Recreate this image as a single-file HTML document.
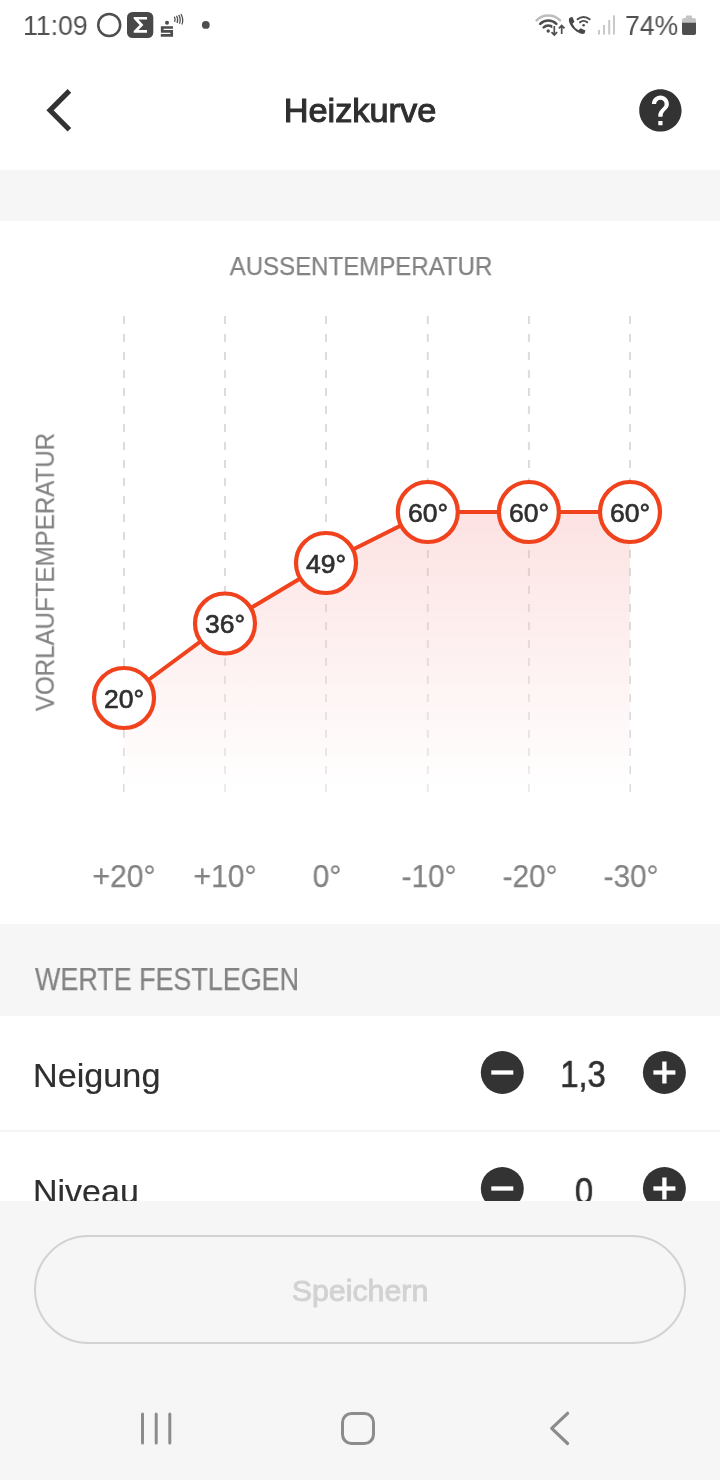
<!DOCTYPE html>
<html><head><meta charset="utf-8">
<style>
*{margin:0;padding:0;box-sizing:border-box}
html,body{width:720px;height:1480px;overflow:hidden;background:#fff;font-family:"Liberation Sans",sans-serif;}
body{position:relative}
.abs{position:absolute}
.t{position:absolute;white-space:nowrap;line-height:1;will-change:transform}
</style></head><body>
<!-- status bar -->
<div class="t" id="time" style="left:23.28px;top:13.3px;font-size:27px;color:#505050;transform: scaleX(0.9872);transform-origin:left top;">11:09</div>
<div class="t" id="batt" style="left:625.21px;top:12.95px;font-size:27px;color:#505050;transform: scaleX(0.9842);transform-origin:left top;">74%</div>
<svg class="abs" style="left:0;top:0" width="720" height="50" viewBox="0 0 720 50">
  <!-- circle icon -->
  <circle cx="109.200" cy="25" r="11" fill="none" stroke="#4e4e4e" stroke-width="2.500"/>
  <!-- sigma icon -->
  <rect x="127" y="12" width="26.300" height="26" rx="5.500" fill="#484848"/>
  <path d="M133.700 16.900 H147 V19.600 H138.400 L143.400 24.900 L138.400 30.100 H147 V32.800 H133.700 V31 L139.600 24.900 L133.700 18.700 Z" fill="#fff"/>
  <!-- sparkasse-like icon -->
  <circle cx="167" cy="22.800" r="2" fill="#4e4e4e"/>
  <path d="M173 27.500 H162.200 V31.400 H171.700 V35.400 H160.800" fill="none" stroke="#4e4e4e" stroke-width="2.700"/>
  <path d="M174.300 16.700 q1.600 2.600 0.400 5.400 M176.500 15.700 q2.100 3.500 0.600 7.200 M178.700 14.900 q2.600 4.300 0.800 8.800 M180.900 14.200 q3.100 5 1 10.200" stroke="#505050" stroke-width="1.250" fill="none"/>
  <!-- dot -->
  <circle cx="205.800" cy="24.900" r="3.900" fill="#4e4e4e"/>
  <!-- wifi -->
  <path d="M536.600 20.300 A16.500 16.500 0 0 1 560 20.300" stroke="#bdbdbd" stroke-width="2.600" fill="none" stroke-linecap="round"/>
  <path d="M540.200 23.900 A11.500 11.500 0 0 1 556.400 23.900" stroke="#4e4e4e" stroke-width="2.600" fill="none" stroke-linecap="round"/>
  <path d="M543.700 27.400 A6.500 6.500 0 0 1 552.900 27.400" stroke="#4e4e4e" stroke-width="2.600" fill="none" stroke-linecap="round"/>
  <circle cx="548.200" cy="31" r="1.700" fill="#4e4e4e"/>
  <path d="M554.300 26 v9 m-2.800 -2.800 l2.800 2.800 l2.800 -2.800 M561.700 34 v-8.500 m-2.800 2.800 l2.800 -2.800 l2.800 2.800" stroke="#fff" stroke-width="4" fill="none"/>
  <path d="M554.300 26 v9 m-2.800 -2.800 l2.800 2.800 l2.800 -2.800 M561.700 34 v-8.500 m-2.800 2.800 l2.800 -2.800 l2.800 2.800" stroke="#4e4e4e" stroke-width="1.700" fill="none"/>
  <!-- phone wifi -->
  <path d="M569.300 18 l3 -1.200 l2.200 5 l-2 2 q2 4.500 6 6.500 l2 -2 l5 2.200 l-1 3 q-3 1.500 -8 -2 q-6 -4.500 -7.500 -10 q-0.500 -2 0.300 -3.500z" fill="#484848"/>
  <path d="M577.600 19.300 a9 9 0 0 1 12 0" stroke="#4e4e4e" stroke-width="2" fill="none" stroke-linecap="round"/>
  <path d="M580 22.300 a5.500 5.500 0 0 1 7.200 0" stroke="#4e4e4e" stroke-width="2" fill="none" stroke-linecap="round"/>
  <circle cx="583.600" cy="25.300" r="1.300" fill="#4e4e4e"/>
  <!-- signal -->
  <rect x="598" y="30" width="2" height="4.500" fill="#c8c8c8"/>
  <rect x="603" y="25" width="2" height="9.500" fill="#c8c8c8"/>
  <rect x="608.200" y="20" width="2" height="14.500" fill="#c8c8c8"/>
  <rect x="613" y="15.400" width="2" height="19" fill="#c8c8c8"/>
  <!-- battery -->
  <rect x="685.800" y="15.400" width="6.200" height="4" rx="1" fill="#c4c4c4"/>
  <rect x="682" y="18" width="14" height="17" rx="2" fill="#c4c4c4"/>
  <path d="M682 22.800 H696 V33 a2 2 0 0 1 -2 2 H684 a2 2 0 0 1 -2 -2 Z" fill="#4e4e4e"/>
</svg>

<!-- header -->
<svg class="abs" style="left:30px;top:80px" width="60" height="60" viewBox="0 0 60 60">
  <path d="M39.400 10.900 L20 30.350 L39.400 49.800" fill="none" stroke="#333" stroke-width="5.100"/>
</svg>
<div class="t" id="title" style="left:360.13px;top:93.05px;font-size:34px;color:#2f2f2f;-webkit-text-stroke:1.1px #2f2f2f;transform:translateX(-50%) scaleX(1.0085);transform-origin:center top;">Heizkurve</div>
<svg class="abs" style="left:635.100px;top:85.100px" width="50.800" height="50.800" viewBox="0 0 24 24">
  <path fill="#333" d="M12 2C6.480 2 2 6.480 2 12s4.480 10 10 10 10-4.480 10-10S17.520 2 12 2zm1 17h-2v-2h2v2zm2.070-7.750l-.9.920C13.450 12.900 13 13.500 13 15h-2v-.5c0-1.100.45-2.100 1.170-2.830l1.240-1.260c.37-.36.590-.86.590-1.410 0-1.100-.9-2-2-2s-2 .9-2 2H8c0-2.210 1.790-4 4-4s4 1.790 4 4c0 .88-.36 1.680-.93 2.250z"/>
</svg>

<div class="abs" style="left:0;top:170px;width:720px;height:51px;background:#f6f6f6"></div>

<!-- chart -->
<div class="t" id="aussen" style="left:361.27px;top:252.85px;font-size:26.5px;color:#838383;-webkit-text-stroke:0.25px #838383;transform:translateX(-50%) scaleX(0.907);transform-origin:center top;">AUSSENTEMPERATUR</div>
<div class="t" id="vorlauf" style="left:44.75px;top:571.97px;font-size:26.5px;color:#838383;-webkit-text-stroke:0.25px #838383;transform:translate(-50%,-50%) rotate(-90deg) scaleX(0.9102);transform-origin:center center;">VORLAUFTEMPERATUR</div>

<svg class="abs" style="left:0;top:300px" width="720" height="520" viewBox="0 300 720 520">
  <defs>
    <linearGradient id="g" x1="0" y1="512" x2="0" y2="790" gradientUnits="userSpaceOnUse">
      <stop offset="0" stop-color="#ee2828" stop-opacity="0.135"/>
      <stop offset="1" stop-color="#ee2828" stop-opacity="0"/>
    </linearGradient>
    <linearGradient id="w" x1="0" y1="512" x2="0" y2="790" gradientUnits="userSpaceOnUse">
      <stop offset="0" stop-color="#fff" stop-opacity="0.150"/>
      <stop offset="1" stop-color="#fff" stop-opacity="0.450"/>
    </linearGradient>
  </defs>
  <g stroke="#dcdcdc" stroke-width="2" stroke-dasharray="8 10">
    <path d="M124 316V792M225 316V792M326 316V792M427.800 316V792M528.900 316V792M630 316V792"/>
  </g>
  <path d="M124 698 L225 623.500 L326 563 L427.800 512 L630 512 L630 792 L124 792 Z" fill="url(#w)"/>
  <path d="M124 698 L225 623.500 L326 563 L427.800 512 L630 512 L630 792 L124 792 Z" fill="url(#g)"/>
  <path d="M124 698 L225 623.500 L326 563 L427.800 512 L630 512" fill="none" stroke="#f0431d" stroke-width="4"/>
  <g fill="#fff" stroke="#f0431d" stroke-width="4.200">
    <circle cx="124" cy="698" r="30"/><circle cx="225" cy="623.500" r="30"/><circle cx="326" cy="563" r="30"/>
    <circle cx="427.800" cy="512" r="30"/><circle cx="528.900" cy="512" r="30"/><circle cx="630" cy="512" r="30"/>
  </g>
</svg>
<div class="t" id="p20" style="left:123.91px;top:685.7px;font-size:26px;color:#2f2f2f;-webkit-text-stroke:0.65px #2f2f2f;transform:translateX(-50%) scaleX(1.02);transform-origin:center top;">20°</div><div class="t" id="p36" style="left:224.76px;top:611.2px;font-size:26px;color:#2f2f2f;-webkit-text-stroke:0.65px #2f2f2f;transform:translateX(-50%) scaleX(1.02);transform-origin:center top;">36°</div><div class="t" id="p49" style="left:326.19px;top:550.7px;font-size:26px;color:#2f2f2f;-webkit-text-stroke:0.65px #2f2f2f;transform:translateX(-50%) scaleX(1.02);transform-origin:center top;">49°</div><div class="t" id="p60a" style="left:428.0px;top:499.7px;font-size:26px;color:#2f2f2f;-webkit-text-stroke:0.65px #2f2f2f;transform:translateX(-50%) scaleX(1.02);transform-origin:center top;">60°</div><div class="t" id="p60b" style="left:529.0px;top:499.7px;font-size:26px;color:#2f2f2f;-webkit-text-stroke:0.65px #2f2f2f;transform:translateX(-50%) scaleX(1.02);transform-origin:center top;">60°</div><div class="t" id="p60c" style="left:630.4px;top:499.7px;font-size:26px;color:#2f2f2f;-webkit-text-stroke:0.65px #2f2f2f;transform:translateX(-50%) scaleX(1.02);transform-origin:center top;">60°</div>
<div class="t" id="x20" style="left:124.32px;top:860.4px;font-size:32px;color:#838383;-webkit-text-stroke:0.25px #838383;transform:translateX(-50%) scaleX(0.94);transform-origin:center top;">+20°</div><div class="t" id="x10" style="left:224.75px;top:860.4px;font-size:32px;color:#838383;-webkit-text-stroke:0.25px #838383;transform:translateX(-50%) scaleX(0.94);transform-origin:center top;">+10°</div><div class="t" id="x0" style="left:326.56px;top:860.4px;font-size:32px;color:#838383;-webkit-text-stroke:0.25px #838383;transform:translateX(-50%) scaleX(0.94);transform-origin:center top;">0°</div><div class="t" id="xm10" style="left:428.58px;top:860.4px;font-size:32px;color:#838383;-webkit-text-stroke:0.25px #838383;transform:translateX(-50%) scaleX(0.93);transform-origin:center top;">-10°</div><div class="t" id="xm20" style="left:529.91px;top:860.4px;font-size:32px;color:#838383;-webkit-text-stroke:0.25px #838383;transform:translateX(-50%) scaleX(0.93);transform-origin:center top;">-20°</div><div class="t" id="xm30" style="left:631.31px;top:860.4px;font-size:32px;color:#838383;-webkit-text-stroke:0.25px #838383;transform:translateX(-50%) scaleX(0.93);transform-origin:center top;">-30°</div>

<!-- section header -->
<div class="abs" style="left:0;top:924px;width:720px;height:92px;background:#f6f6f6"></div>
<div class="t" id="werte" style="left:35.03px;top:964.05px;font-size:31px;color:#838383;-webkit-text-stroke:0.25px #838383;transform: scaleX(0.8674);transform-origin:left top;">WERTE FESTLEGEN</div>

<!-- rows -->
<div class="t" id="neig" style="left:33.4px;top:1057.7px;font-size:34px;color:#2f2f2f;-webkit-text-stroke:0.2px #2f2f2f;transform: scaleX(1.006);transform-origin:left top;">Neigung</div>
<div class="t" id="niv" style="left:33.4px;top:1173.7px;font-size:34px;color:#2f2f2f;-webkit-text-stroke:0.2px #2f2f2f;transform: scaleX(1.0);transform-origin:left top;">Niveau</div>
<div class="abs" style="left:0;top:1130px;width:720px;height:2px;background:#f5f5f5"></div>
<div class="t" id="v1" style="left:582.66px;top:1057.4px;font-size:36px;color:#2f2f2f;-webkit-text-stroke:0.6px #2f2f2f;transform:translateX(-50%) scaleX(0.9077);transform-origin:center top;">1,3</div>
<div class="t" id="v2" style="left:583.8px;top:1174.0px;font-size:36px;color:#2f2f2f;-webkit-text-stroke:0.6px #2f2f2f;transform:translateX(-50%) scaleX(0.9077);transform-origin:center top;">0</div>
<svg class="abs" style="left:470px;top:1040px" width="240" height="180" viewBox="470 1040 240 180">
  <g fill="#333">
    <circle cx="502.300" cy="1072.500" r="21.500"/><circle cx="664.400" cy="1072.500" r="21.500"/>
    <circle cx="502.300" cy="1188.500" r="21.500"/><circle cx="664.400" cy="1188.500" r="21.500"/>
  </g>
  <g fill="#fff">
    <rect x="491.300" y="1070.350" width="22" height="4.300"/>
    <rect x="653.400" y="1070.350" width="22" height="4.300"/><rect x="662.250" y="1061.500" width="4.300" height="22"/>
    <rect x="491.300" y="1186.350" width="22" height="4.300"/>
    <rect x="653.400" y="1186.350" width="22" height="4.300"/><rect x="662.250" y="1177.500" width="4.300" height="22"/>
  </g>
</svg>

<!-- bottom overlay -->
<div class="abs" style="left:0;top:1201px;width:720px;height:279px;background:#f6f6f6"></div>
<div class="abs" style="left:34px;top:1235px;width:652px;height:109px;border:2px solid #d2d2d2;border-radius:55px"></div>
<div class="t" id="save" style="left:359.65px;top:1276.75px;font-size:29px;color:#d2d2d2;-webkit-text-stroke:0.9px #d2d2d2;transform:translateX(-50%) scaleX(1.0464);transform-origin:center top;">Speichern</div>

<!-- nav -->
<svg class="abs" style="left:0;top:1400px" width="720" height="60" viewBox="0 1400 720 60">
  <g stroke="#8c8c8c" stroke-width="3" fill="none" stroke-linecap="round">
    <path d="M142.500 1414V1443M156.200 1414V1443M169.800 1414V1443"/>
    <rect x="342.500" y="1413.500" width="31" height="30" rx="9"/>
    <path d="M567.600 1413.300 L551.700 1428.400 L567.600 1443.500" stroke-linejoin="round" stroke-width="3.200"/>
  </g>
</svg>
</body></html>
